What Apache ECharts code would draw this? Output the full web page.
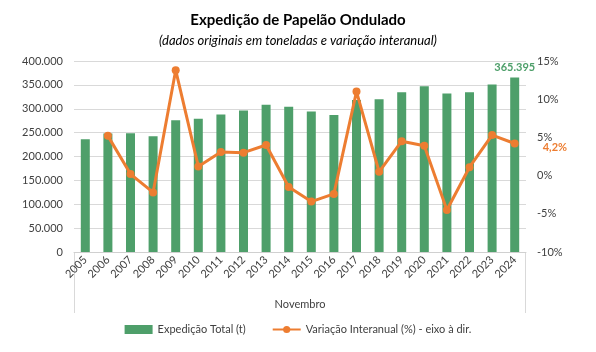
<!DOCTYPE html>
<html><head><meta charset="utf-8">
<script src="https://cdn.jsdelivr.net/npm/echarts@6/dist/echarts.min.js"></script>
<style>html,body{margin:0;padding:0;background:#fff}#c{width:596px;height:352px}</style>
</head><body><div id="c"></div>
<script>
var years = ['2005','2006','2007','2008','2009','2010','2011','2012','2013','2014','2015','2016','2017','2018','2019','2020','2021','2022','2023','2024'];
var expedicao = [236000,248000,248500,242500,276000,279000,288000,296500,308500,304000,294000,287000,318500,320000,334500,347000,332000,334500,351000,365395];
var variacao = [null,5.2,0.2,-2.2,13.8,1.2,3.1,3.0,4.0,-1.5,-3.4,-2.4,11.0,0.5,4.5,3.9,-4.5,1.1,5.3,4.2];
var leftTicks = [0,50000,100000,150000,200000,250000,300000,350000,400000];
var rightTicks = [-10,-5,0,5,10,15];

var font = 'Lato, "Open Sans", sans-serif';
var chart = echarts.init(document.getElementById('c'), null, {renderer:'canvas'});
function fmtThousands(v){ return String(v).replace(/\B(?=(\d{3})+(?!\d))/g,'.'); }
var lastIdx = years.length - 1;
chart.setOption({
  animation:false,
  textStyle:{fontFamily:font},
  title:[
    {text:'Expedição de Papelão Ondulado', left:'center', top:8, textStyle:{fontFamily:font, fontSize:15, fontWeight:'bold', color:'#000'}},
    {text:'(dados originais em toneladas e variação interanual)', left:'center', top:29, textStyle:{fontFamily:font, fontSize:13, fontWeight:'normal', fontStyle:'italic', color:'#000'}}
  ],
  legend:{
    bottom:12, left:'center', itemGap:26, itemWidth:28, itemHeight:9,
    textStyle:{fontFamily:font, fontSize:11, color:'#404040'},
    data:[{name:'Expedição Total (t)', icon:'rect'},{name:'Variação Interanual (%) - eixo à dir.'}]
  },
  grid:{left:74, right:70, top:61, bottom:100, containLabel:false},
  xAxis:{
    type:'category', data:years,
    name:'Novembro', nameLocation:'middle', nameGap:47,
    nameTextStyle:{fontFamily:font, fontSize:11, color:'#404040'},
    axisLine:{lineStyle:{color:'#d0d0d0'}},
    axisTick:{show:false},
    axisLabel:{rotate:45, fontSize:11, color:'#404040', fontFamily:font, margin:6, interval:0}
  },
  yAxis:[
    {type:'value', min:0, max:400000, interval:50000,
     axisLabel:{formatter:function(v){return v===0?'0':fmtThousands(v);}, fontSize:11, color:'#404040', fontFamily:font, margin:11},
     splitLine:{lineStyle:{color:'#d9d9d9'}}, axisLine:{show:false}, axisTick:{show:false}},
    {type:'value', min:-10, max:15, interval:5,
     axisLabel:{formatter:'{value}%', fontSize:11, color:'#404040', fontFamily:font, margin:11},
     splitLine:{show:false}, axisLine:{show:false}, axisTick:{show:false}}
  ],
  graphic:[
    {type:'line', shape:{x1:74.5,y1:252,x2:74.5,y2:313}, style:{stroke:'#d9d9d9', lineWidth:1}},
    {type:'line', shape:{x1:525.5,y1:252,x2:525.5,y2:313}, style:{stroke:'#d9d9d9', lineWidth:1}}
  ],
  series:[
    {name:'Expedição Total (t)', type:'bar', data:expedicao.map(function(v,i){
        return i===lastIdx ? {value:v, label:{show:true, position:'top', distance:5, formatter:function(p){return fmtThousands(p.value);}, color:'#4e9f6a', fontWeight:'bold', fontSize:11, fontFamily:font}} : v;
      }),
     barWidth:9, itemStyle:{color:'#4e9f6a'}, yAxisIndex:0},
    {name:'Variação Interanual (%) - eixo à dir.', type:'line', yAxisIndex:1, data:variacao.map(function(v,i){
        return i===lastIdx ? {value:v, label:{show:true, position:'right', distance:24, offset:[0,4], formatter:function(p){return String(p.value).replace('.',',')+'%';}, color:'#ed7d31', fontWeight:'bold', fontSize:11, fontFamily:font}} : v;
      }),
     symbol:'circle', symbolSize:8, connectNulls:false,
     lineStyle:{color:'#ed7d31', width:3}, itemStyle:{color:'#ed7d31'}}
  ]
});
</script></body></html>
